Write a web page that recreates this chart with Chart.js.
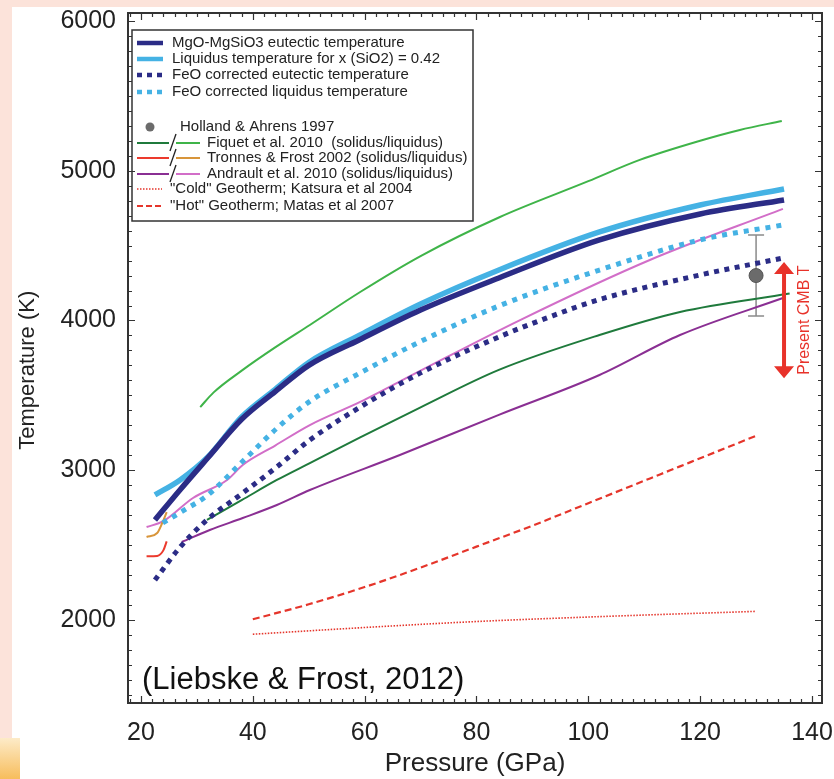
<!DOCTYPE html>
<html>
<head>
<meta charset="utf-8">
<script src="https://cdn.jsdelivr.net/npm/chart.js@4.4.1/dist/chart.umd.min.js"></script>
<style>
  html, body { margin: 0; padding: 0; }
  body { width: 834px; height: 779px; background: #fce3da; position: relative; overflow: hidden; }
  #paper { position: absolute; left: 12px; top: 7px; right: 0; bottom: 0; background: #fff; }
  #corner { position: absolute; left: 0; top: 738px; width: 20px; height: 41px; background: linear-gradient(#fdebc8, #f7bd5c); }
  #wrap { position: absolute; left: 0; top: 0; width: 834px; height: 779px; }
</style>
</head>
<body>
<div id="paper"></div>
<div id="corner"></div>
<div id="wrap"><canvas id="meltChart"></canvas></div>
<script>
const FONT = "'Liberation Sans', Arial, Helvetica, sans-serif";

// axis ticks
const pressureTicks = [20, 40, 60, 80, 100, 120, 140];
const tempTicks = [2000, 3000, 4000, 5000, 6000];

// MgO-MgSiO3 eutectic temperature
const eutecticP = [22.5, 27, 32, 38, 44, 50, 59, 70, 84, 102, 120, 135];
const eutecticT = [2668, 2870, 3085, 3340, 3525, 3700, 3870, 4070, 4284, 4538, 4711, 4805];
// liquidus for x(SiO2) = 0.42
const liquidusP = [22.5, 27, 32, 38, 44, 50, 59, 70, 84, 102, 120, 135];
const liquidusT = [2835, 2935, 3090, 3356, 3540, 3720, 3900, 4110, 4337, 4591, 4771, 4878];
// FeO corrected eutectic
const feoEutP = [22.5, 27, 31.8, 38.2, 44.3, 50.2, 59.2, 70, 84, 93, 102, 120, 134.8];
const feoEutT = [2267, 2487, 2668, 2848, 3022, 3202, 3422, 3650, 3890, 4023, 4140, 4304, 4417];
// FeO corrected liquidus
const feoLiqP = [23.9, 28, 31.8, 38.2, 44.3, 50.2, 59.2, 70, 84.2, 102, 120, 134.8];
const feoLiqT = [2648, 2740, 2830, 3060, 3280, 3460, 3650, 3860, 4100, 4337, 4538, 4638];

// Fiquet et al. 2010
const fiqSolP = [31.8, 38, 44.3, 50.2, 59.2, 70, 84, 102, 116.4, 136];
const fiqSolT = [2668, 2800, 2935, 3048, 3220, 3420, 3670, 3903, 4057, 4180];
const fiqLiqP = [30.6, 33, 38.2, 44, 50.2, 59.2, 70, 84.2, 100, 109.2, 120, 127.1, 134.6];
const fiqLiqT = [3422, 3520, 3670, 3820, 3970, 4190, 4430, 4691, 4930, 5072, 5200, 5272, 5332];
// Tronnes & Frost 2002
const troSolP = [21, 22.9, 24, 24.6];
const troSolT = [2425, 2428, 2465, 2525];
const troLiqP = [21, 22.9, 23.8, 24.6];
const troLiqT = [2554, 2581, 2648, 2721];
// Andrault et al. 2010
const andSolP = [27.3, 32.3, 38.2, 44.3, 50.2, 66.3, 84, 102, 116.4, 134.8];
const andSolT = [2521, 2601, 2681, 2768, 2868, 3102, 3370, 3636, 3903, 4150];
const andLiqP = [21, 24, 29.3, 35.4, 38.2, 44, 50.2, 59.2, 70, 87.8, 111, 134.8];
const andLiqT = [2621, 2660, 2815, 2935, 3035, 3165, 3302, 3456, 3665, 4003, 4404, 4745];

// geotherms
const coldP = [40, 60, 80, 100, 130];
const coldT = [1905, 1950, 1990, 2020, 2058];
const hotP = [40, 50, 60, 70, 80, 90, 100, 110, 120, 130];
const hotT = [2005, 2105, 2220, 2350, 2490, 2630, 2780, 2930, 3080, 3230];

// Holland & Ahrens 1997 point with error bar
const hollandP = [130];
const hollandT = [4300];
const hollandLow = [4030];
const hollandHigh = [4570];

// present CMB temperature range
const cmbP = 135;
const cmbRange = [3615, 4390];

const NAVY = '#2b2c86';
const SKY = '#45b2e4';
const GREEN_D = '#1f7a3c';
const GREEN_L = '#3fb449';
const RED = '#ec3a2d';
const ORANGE = '#d8953a';
const PURPLE = '#8a2f93';
const PINK = '#d26ec8';
const GEO = '#e5352b';

const pts = (ps, ts) => ps.map((p, i) => ({ x: p, y: ts[i] }));

function curve(label, ps, ts, color, width, dash) {
  return {
    label: label,
    data: pts(ps, ts),
    borderColor: color,
    borderWidth: width,
    borderDash: dash || [],
    borderCapStyle: 'butt',
    pointRadius: 0,
    fill: false,
    cubicInterpolationMode: 'monotone'
  };
}

const legendRows = [
  { dy: 13, kind: 'solid', c: [NAVY], text: 'MgO-MgSiO3 eutectic temperature' },
  { dy: 29, kind: 'solid', c: [SKY], text: 'Liquidus temperature for x (SiO2) = 0.42' },
  { dy: 45, kind: 'dots', c: [NAVY], text: 'FeO corrected eutectic temperature' },
  { dy: 62, kind: 'dots', c: [SKY], text: 'FeO corrected liquidus temperature' },
  { dy: 97, kind: 'point', c: ['#6b6b6b'], text: 'Holland & Ahrens 1997' },
  { dy: 113, kind: 'pair', c: [GREEN_D, GREEN_L], text: 'Fiquet et al. 2010  (solidus/liquidus)' },
  { dy: 128, kind: 'pair', c: [RED, ORANGE], text: 'Tronnes & Frost 2002 (solidus/liquidus)' },
  { dy: 144, kind: 'pair', c: [PURPLE, PINK], text: 'Andrault et al. 2010 (solidus/liquidus)' },
  { dy: 159, kind: 'fine', c: [GEO], text: '"Cold" Geotherm; Katsura et al 2004' },
  { dy: 176, kind: 'dash', c: [GEO], text: '"Hot" Geotherm; Matas et al 2007' }
];

const framePlugin = {
  id: 'frame',
  afterDraw(chart) {
    const { ctx, chartArea: a, scales: { x, y } } = chart;
    ctx.save();
    ctx.strokeStyle = '#333';
    ctx.lineWidth = 1.2;
    ctx.beginPath();
    for (let v = 18; v <= 141; v += 2) {
      const px = Math.round(x.getPixelForValue(v)) + 0.5;
      const len = v % 20 === 0 ? 7 : 4;
      ctx.moveTo(px, a.bottom); ctx.lineTo(px, a.bottom - len);
      ctx.moveTo(px, a.top); ctx.lineTo(px, a.top + len);
    }
    for (let v = 1500; v <= 6000; v += 100) {
      const py = Math.round(y.getPixelForValue(v)) + 0.5;
      const len = v % 1000 === 0 ? 7 : 4;
      ctx.moveTo(a.left, py); ctx.lineTo(a.left + len, py);
      ctx.moveTo(a.right, py); ctx.lineTo(a.right - len, py);
    }
    ctx.stroke();
    ctx.lineWidth = 2;
    ctx.strokeRect(a.left, a.top, a.right - a.left, a.bottom - a.top);
    ctx.restore();
  }
};

const extrasPlugin = {
  id: 'extras',
  beforeDatasetsDraw(chart) {
    const { ctx, scales: { x, y } } = chart;
    ctx.save();
    ctx.strokeStyle = '#8a8a8a';
    ctx.lineWidth = 1.5;
    hollandP.forEach((p, i) => {
      const px = x.getPixelForValue(p);
      const y1 = y.getPixelForValue(hollandLow[i]);
      const y2 = y.getPixelForValue(hollandHigh[i]);
      ctx.beginPath();
      ctx.moveTo(px, y1); ctx.lineTo(px, y2);
      ctx.moveTo(px - 8, y1); ctx.lineTo(px + 8, y1);
      ctx.moveTo(px - 8, y2); ctx.lineTo(px + 8, y2);
      ctx.stroke();
    });
    ctx.restore();
  },
  afterDatasetsDraw(chart) {
    const { ctx, scales: { x, y } } = chart;
    ctx.save();
    // CMB arrow
    const ax = x.getPixelForValue(cmbP);
    const yTop = y.getPixelForValue(cmbRange[1]);
    const yBot = y.getPixelForValue(cmbRange[0]);
    ctx.strokeStyle = '#e8322a';
    ctx.fillStyle = '#e8322a';
    ctx.lineWidth = 4;
    ctx.beginPath();
    ctx.moveTo(ax, yTop + 10); ctx.lineTo(ax, yBot - 10);
    ctx.stroke();
    ctx.beginPath();
    ctx.moveTo(ax, yTop); ctx.lineTo(ax - 10, yTop + 12); ctx.lineTo(ax + 10, yTop + 12); ctx.closePath();
    ctx.moveTo(ax, yBot); ctx.lineTo(ax - 10, yBot - 12); ctx.lineTo(ax + 10, yBot - 12); ctx.closePath();
    ctx.fill();
    ctx.translate(ax + 21, (yTop + yBot) / 2);
    ctx.rotate(-Math.PI / 2);
    ctx.font = '16px ' + FONT;
    ctx.textAlign = 'center';
    ctx.textBaseline = 'middle';
    ctx.fillText('Present CMB T', 0, 0);
    ctx.restore();

    // source note
    ctx.save();
    ctx.font = '31px ' + FONT;
    ctx.fillStyle = '#111';
    ctx.textBaseline = 'middle';
    ctx.fillText('(Liebske & Frost, 2012)', chart.chartArea.left + 14, 680);
    ctx.restore();
  },
  afterDraw(chart) {
    const ctx = chart.ctx;
    const bx = 132, by = 30, bw = 341, bh = 191;
    ctx.save();
    ctx.fillStyle = '#fff';
    ctx.fillRect(bx, by, bw, bh);
    ctx.strokeStyle = '#333';
    ctx.lineWidth = 1.5;
    ctx.strokeRect(bx, by, bw, bh);
    ctx.font = '15px ' + FONT;
    ctx.textBaseline = 'middle';
    legendRows.forEach(r => {
      const yy = by + r.dy;
      let tx = 172;
      ctx.setLineDash([]);
      if (r.kind === 'solid' || r.kind === 'dots') {
        ctx.strokeStyle = r.c[0];
        ctx.lineWidth = 4.5;
        if (r.kind === 'dots') ctx.setLineDash([5, 5]);
        ctx.beginPath(); ctx.moveTo(137, yy); ctx.lineTo(163, yy); ctx.stroke();
      } else if (r.kind === 'point') {
        ctx.fillStyle = r.c[0];
        ctx.beginPath(); ctx.arc(150, yy, 4.5, 0, Math.PI * 2); ctx.fill();
        tx = 180;
      } else if (r.kind === 'pair') {
        ctx.lineWidth = 2;
        ctx.strokeStyle = r.c[0];
        ctx.beginPath(); ctx.moveTo(137, yy); ctx.lineTo(169, yy); ctx.stroke();
        ctx.strokeStyle = r.c[1];
        ctx.beginPath(); ctx.moveTo(176, yy); ctx.lineTo(200, yy); ctx.stroke();
        ctx.strokeStyle = '#222';
        ctx.lineWidth = 1.3;
        ctx.beginPath(); ctx.moveTo(170, yy + 8); ctx.lineTo(176, yy - 9); ctx.stroke();
        tx = 207;
      } else if (r.kind === 'fine') {
        ctx.strokeStyle = r.c[0];
        ctx.lineWidth = 1.6;
        ctx.setLineDash([1.5, 1.5]);
        ctx.beginPath(); ctx.moveTo(137, yy); ctx.lineTo(162, yy); ctx.stroke();
        tx = 170;
      } else if (r.kind === 'dash') {
        ctx.strokeStyle = r.c[0];
        ctx.lineWidth = 2.2;
        ctx.setLineDash([6, 3]);
        ctx.beginPath(); ctx.moveTo(137, yy); ctx.lineTo(162, yy); ctx.stroke();
        tx = 170;
      }
      ctx.setLineDash([]);
      ctx.fillStyle = '#222';
      ctx.fillText(r.text, tx, yy);
    });
    ctx.restore();
  }
};

const ctxMelt = document.getElementById('meltChart').getContext('2d');
const meltChart = new Chart(ctxMelt, {
  type: 'line',
  data: {
    datasets: [
      {
        type: 'scatter',
        label: 'Holland & Ahrens 1997',
        data: pts(hollandP, hollandT),
        pointRadius: 7,
        backgroundColor: '#6b6b6b',
        borderColor: '#555',
        borderWidth: 1
      },
      curve('MgO-MgSiO3 eutectic temperature', eutecticP, eutecticT, NAVY, 5.5),
      curve('Liquidus temperature for x (SiO2) = 0.42', liquidusP, liquidusT, SKY, 5.5),
      curve('FeO corrected eutectic temperature', feoEutP, feoEutT, NAVY, 5, [5, 5.5]),
      curve('FeO corrected liquidus temperature', feoLiqP, feoLiqT, SKY, 5, [5, 6]),
      curve('Fiquet et al. 2010 solidus', fiqSolP, fiqSolT, GREEN_D, 2),
      curve('Fiquet et al. 2010 liquidus', fiqLiqP, fiqLiqT, GREEN_L, 2),
      curve('Tronnes & Frost 2002 solidus', troSolP, troSolT, RED, 2),
      curve('Tronnes & Frost 2002 liquidus', troLiqP, troLiqT, ORANGE, 2),
      curve('Andrault et al. 2010 solidus', andSolP, andSolT, PURPLE, 2),
      curve('Andrault et al. 2010 liquidus', andLiqP, andLiqT, PINK, 2),
      curve('"Cold" Geotherm; Katsura et al 2004', coldP, coldT, GEO, 1.6, [1.5, 1.5]),
      curve('"Hot" Geotherm; Matas et al 2007', hotP, hotT, GEO, 2.2, [7, 4])
    ]
  },
  options: {
    responsive: true,
    maintainAspectRatio: false,
    animation: false,
    layout: { padding: { top: 13, right: 12, left: 0, bottom: 0 } },
    plugins: {
      legend: { display: false },
      tooltip: { enabled: false }
    },
    scales: {
      x: {
        type: 'linear',
        min: 17.68,
        max: 141.79,
        afterBuildTicks: s => { s.ticks = pressureTicks.map(v => ({ value: v })); },
        afterFit: s => { s.height = 76; s.paddingLeft = 0; s.paddingRight = 0; },
        grid: { display: false, drawTicks: false },
        border: { display: false },
        ticks: { font: { size: 25, family: FONT }, color: '#222', padding: 15, maxRotation: 0, autoSkip: false, callback: v => String(v) },
        title: { display: true, text: 'Pressure (GPa)', font: { size: 26, family: FONT }, color: '#222', padding: { top: 0, bottom: 0 } }
      },
      y: {
        type: 'linear',
        min: 1446,
        max: 6053,
        afterBuildTicks: s => { s.ticks = tempTicks.map(v => ({ value: v })); },
        afterFit: s => { s.width = 128; s.paddingTop = 0; s.paddingBottom = 0; },
        grid: { display: false, drawTicks: false },
        border: { display: false },
        ticks: { font: { size: 25, family: FONT }, color: '#222', padding: 12, callback: v => String(v) },
        title: { display: true, text: 'Temperature (K)    ', font: { size: 22, family: FONT }, color: '#222', padding: { top: 15, bottom: 0 } }
      }
    }
  },
  plugins: [extrasPlugin, framePlugin]
});
</script>
</body>
</html>
